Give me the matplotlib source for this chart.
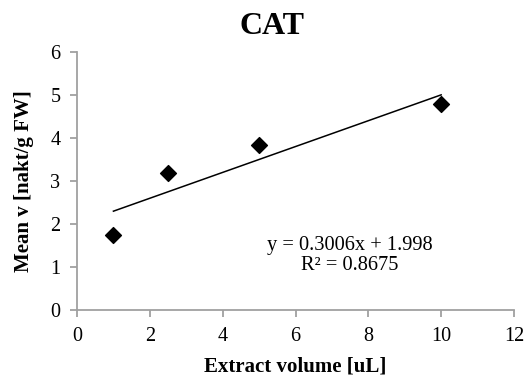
import numpy as np
import matplotlib.pyplot as plt

plt.rcParams['font.family'] = ['Liberation Serif', 'DejaVu Serif']

volume = [1, 2.5, 5, 10]
mean_v = [1.74, 3.19, 3.83, 4.79]
slope = 0.3006
intercept = 1.998
r2 = 0.8675

fig = plt.figure(figsize=(5.3, 3.77), dpi=100)
ax = fig.add_axes([0.1453, 0.1777, 0.8245, 0.6843])

ax.scatter(volume, mean_v, marker='D', s=65, color='black', zorder=3)
xs = np.array([min(volume), max(volume)])
ax.plot(xs, slope * xs + intercept, color='black', lw=1.1)

ax.text(7.5, 1.26, 'y = %.4fx + %.3f\nR² = %.4f' % (slope, intercept, r2),
        ha='center', va='center', fontsize=14.7, linespacing=1.05)

ax.set_xlim(0, 12)
ax.set_ylim(0, 6)
ax.set_xticks(range(0, 13, 2))
ax.set_yticks(range(0, 7))
for s in ['top', 'right']:
    ax.spines[s].set_visible(False)
for s in ['left', 'bottom']:
    ax.spines[s].set_color('#a0a0a0')
    ax.spines[s].set_linewidth(1.3)
ax.tick_params(colors='#a0a0a0', labelcolor='black', labelsize=14.5,
               length=5, width=1.3, pad=7)

fig.text(0.514, 0.93, 'CAT', fontsize=23, fontweight='bold', ha='center', va='center')
ax.set_xlabel('Extract volume [uL]', fontsize=15, fontweight='bold', labelpad=8)
ax.set_ylabel('Mean v [nakt/g FW]', fontsize=15, fontweight='bold', labelpad=12)

fig.savefig('out.png', dpi=100)
